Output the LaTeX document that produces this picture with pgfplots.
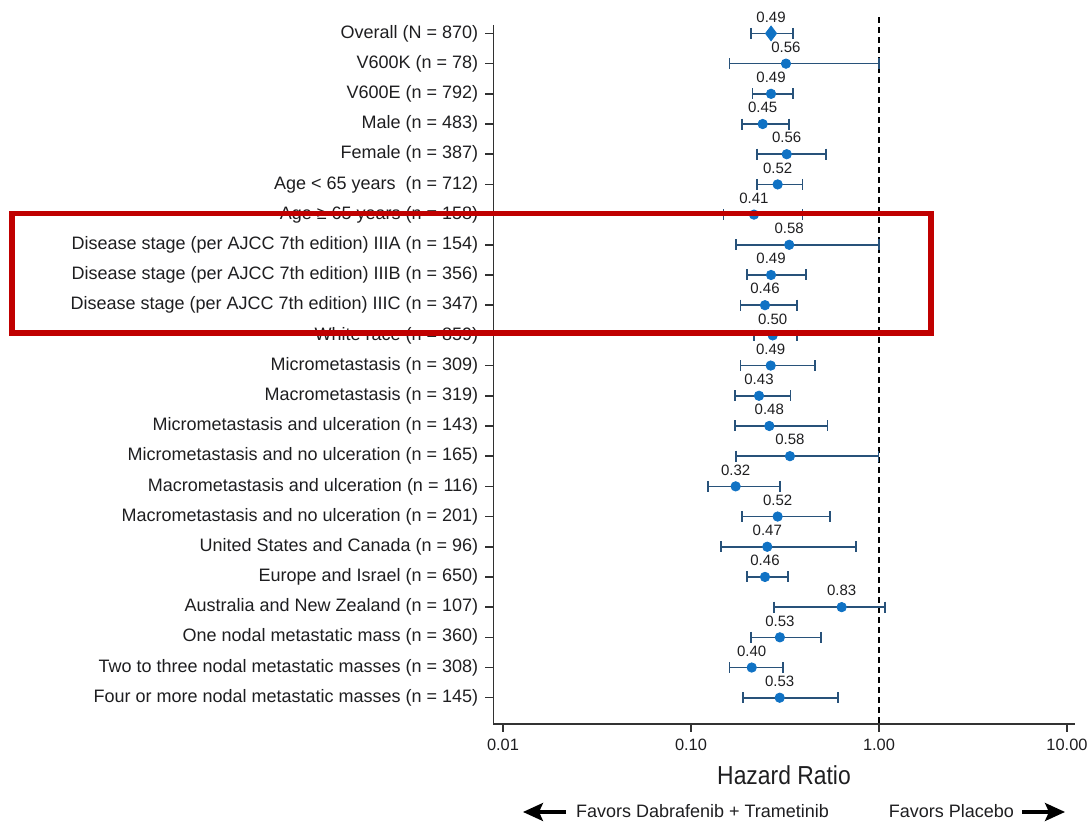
\documentclass[border=0pt]{standalone}
\usepackage{fontspec}
\setmainfont{Liberation Sans}
\usepackage{graphicx}
\usepackage{pgfplots}
\pgfplotsset{compat=1.18}
\usepackage{pgfplotstable}
\usetikzlibrary{arrows.meta}

\definecolor{dotblue}{RGB}{16,114,196}
\definecolor{barblue}{RGB}{40,82,122}
\definecolor{boxred}{RGB}{192,0,0}
\definecolor{txt}{RGB}{30,30,32}
\definecolor{axisgray}{RGB}{50,50,50}

\pgfplotstableread{
x y lab
0.2665 1 0.49
}\overall

\pgfplotstableread{
x y lab
0.320 2 0.56
0.2665 3 0.49
0.2406 4 0.45
0.323 5 0.56
0.289 6 0.52
0.2163 7 0.41
0.333 8 0.58
0.2665 9 0.49
0.2475 10 0.46
0.272 11 0.50
0.2655 12 0.49
0.230 13 0.43
0.261 14 0.48
0.336 15 0.58
0.1728 16 0.32
0.289 17 0.52
0.2545 18 0.47
0.2475 19 0.46
0.633 20 0.83
0.297 21 0.53
0.2104 22 0.40
0.2964 23 0.53
}\subgroups

\pgfplotstableread{
x y
0.2086 1
0.3475 1
nan nan
0.160 2
1.0 2
nan nan
0.212 3
0.350 3
nan nan
0.1867 4
0.333 4
nan nan
0.2236 5
0.5225 5
nan nan
0.2236 6
0.3927 6
nan nan
0.149 7
0.3927 7
nan nan
0.1735 8
1.0 8
nan nan
0.198 9
0.409 9
nan nan
0.1838 10
0.365 10
nan nan
0.2163 11
0.365 11
nan nan
0.1838 12
0.458 12
nan nan
0.1708 13
0.339 13
nan nan
0.1708 14
0.531 14
nan nan
0.1735 15
0.996 15
nan nan
0.1236 16
0.297 16
nan nan
0.1874 17
0.5488 17
nan nan
0.1439 18
0.7547 18
nan nan
0.198 19
0.327 19
nan nan
0.2764 20
1.076 20
nan nan
0.2086 21
0.491 21
nan nan
0.160 22
0.3086 22
nan nan
0.1897 23
0.603 23
}\cis

\begin{document}
\begin{tikzpicture}
\path[use as bounding box] (0,0) rectangle (544pt,411pt);
\begin{axis}[
  at={(246.65pt,49pt)}, anchor=south west,
  scale only axis, width=290.75pt, height=349.5pt,
  xmode=log, xmin=0.00888, xmax=11.0,
  ymin=0.72, ymax=23.87, y dir=reverse,
  axis x line*=bottom, axis y line*=left,
  xtick={0.01,0.1,1,10}, xticklabels={0.01,0.10,1.00,10.00},
  xminorticks=false,
  ytick={1,...,23},
  yticklabels={
    Overall (N = 870),
    V600K (n = 78),
    V600E (n = 792),
    Male (n = 483),
    Female (n = 387),
    Age < 65 years\ \ (n = 712),
    Age ≥ 65 years (n = 158),
    Disease stage (per AJCC 7th edition) IIIA (n = 154),
    Disease stage (per AJCC 7th edition) IIIB (n = 356),
    Disease stage (per AJCC 7th edition) IIIC (n = 347),
    White race (n = 859),
    Micrometastasis (n = 309),
    Macrometastasis (n = 319),
    Micrometastasis and ulceration (n = 143),
    Micrometastasis and no ulceration (n = 165),
    Macrometastasis and ulceration (n = 116),
    Macrometastasis and no ulceration (n = 201),
    United States and Canada (n = 96),
    Europe and Israel (n = 650),
    Australia and New Zealand (n = 107),
    One nodal metastatic mass (n = 360),
    Two to three nodal metastatic masses (n = 308),
    Four or more nodal metastatic masses (n = 145)},
  tick align=outside, major tick length=4pt,
  tick style={line width=0.75pt, color=axisgray},
  axis line style={line width=0.75pt, color=axisgray},
  x tick label style={font=\fontsize{8.2}{9}\selectfont, text=txt},
  y tick label style={font=\fontsize{9}{10}\selectfont, text=txt},
  clip=false,
]
\draw[black, line width=0.65pt, dash pattern=on 3pt off 2pt] (axis cs:1,0.46) -- (axis cs:1,23.87);
\addplot[barblue, line width=0.8pt, unbounded coords=jump, mark=|, mark size=2.75pt,
  mark options={solid, line width=0.8pt, barblue}] table[x=x, y=y] {\cis};
\addplot[only marks, mark=*, mark size=2.35pt, color=dotblue,
  point meta=explicit symbolic, nodes near coords,
  nodes near coords style={anchor=center, yshift=8.2pt, font=\fontsize{7.5}{8}\selectfont, text=txt}]
  table[x=x, y=y, meta=lab] {\subgroups};
\addplot[only marks, mark=diamond*, mark size=3.7pt, color=dotblue,
  point meta=explicit symbolic, nodes near coords,
  nodes near coords style={anchor=center, yshift=8.2pt, font=\fontsize{7.5}{8}\selectfont, text=txt}]
  table[x=x, y=y, meta=lab] {\overall};
\end{axis}
\node[text=txt, font=\fontsize{13}{14}\selectfont] at (392pt,23.5pt) {\scalebox{0.88}[1]{Hazard Ratio}};
\node[text=txt, font=\fontsize{9}{10}\selectfont] at (351.25pt,5.5pt) {Favors Dabrafenib + Trametinib};
\node[text=txt, font=\fontsize{9}{10}\selectfont] at (475.75pt,5.5pt) {Favors Placebo};
\draw[black, line width=1.6pt, -{Stealth[length=10pt,width=9pt,inset=2pt]}] (283pt,5pt) -- (261.5pt,5pt);
\draw[black, line width=1.6pt, -{Stealth[length=10pt,width=9pt,inset=2pt]}] (511pt,5pt) -- (532.5pt,5pt);
\draw[boxred, line width=2.9pt] (6pt,304.25pt) rectangle (465.6pt,244.35pt);
\end{tikzpicture}
\end{document}
